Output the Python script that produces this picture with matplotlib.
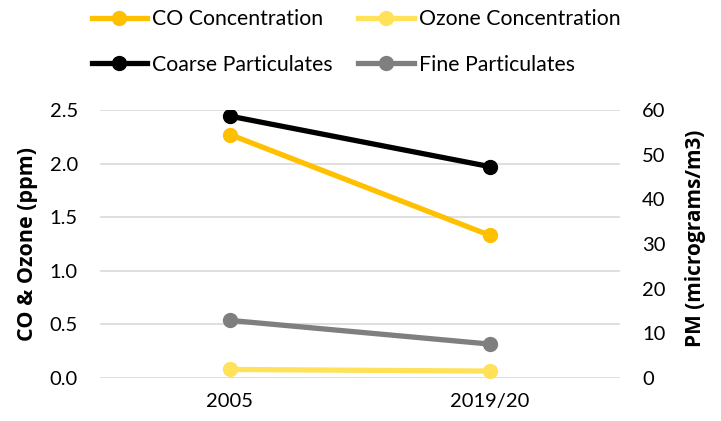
import numpy as np
import matplotlib.pyplot as plt

plt.rcParams['font.family'] = ['Lato', 'DejaVu Sans']

years = ['2005', '2019/20']
co = [2.27, 1.33]
ozone = [0.08, 0.065]
coarse = [58.6, 47.3]
fine = [12.9, 7.6]

fig = plt.figure(figsize=(7.21, 4.21), dpi=100)
ax = fig.add_axes([0.1387, 0.102, 0.7212, 0.637])
ax2 = ax.twinx()

x = np.arange(len(years))
lw = 3.8
ms = 10
l1, = ax.plot(x, co, color='#ffc000', lw=lw, marker='o', ms=ms, label='CO Concentration')
l2, = ax.plot(x, ozone, color='#ffe15a', lw=lw, marker='o', ms=ms, label='Ozone Concentration')
l3, = ax2.plot(x, coarse, color='black', lw=lw, marker='o', ms=ms, label='Coarse Particulates')
l4, = ax2.plot(x, fine, color='#7f7f7f', lw=lw, marker='o', ms=ms, label='Fine Particulates')

ax.set_xlim(-0.5, 1.5)
ax.set_ylim(0, 2.5)
ax2.set_ylim(0, 60)
ticks = np.arange(0, 2.51, 0.5)
ax.set_yticks(ticks)
ax.set_yticklabels([f'{v:.1f}' for v in ticks])
ax2.set_yticks(np.arange(0, 61, 10))
ax.set_xticks(x)
ax.set_xticklabels(years)

ax.grid(axis='y', color='#d9d9d9', lw=1.2)
ax.set_axisbelow(True)
for a in (ax, ax2):
    for s in a.spines.values():
        s.set_visible(False)
    a.tick_params(length=0, labelsize=14.5)
ax.tick_params(axis='y', pad=16)
ax2.tick_params(axis='y', pad=16)
ax.tick_params(axis='x', pad=11)

ax.set_ylabel('CO & Ozone (ppm)', fontsize=15.5, fontweight='bold',
              family=['Open Sans', 'DejaVu Sans'], va='center')
ax2.set_ylabel('PM (micrograms/m3)', fontsize=15, fontweight='bold',
               family=['Open Sans', 'DejaVu Sans'], va='center')
ax.yaxis.set_label_coords(-0.14, 0.5)
ax2.yaxis.set_label_coords(1.146, 0.52)

# matplotlib fills columns first, so order handles to get CO/Ozone on row 1
fig.legend(handles=[l1, l3, l2, l4], ncol=2, loc='upper left',
           bbox_to_anchor=(0.127, 0.978), frameon=False, fontsize=15.3,
           handlelength=2.6, handletextpad=0.25, columnspacing=1.2,
           labelspacing=1.2, borderpad=0, borderaxespad=0)

fig.savefig('out.png', dpi=100)
